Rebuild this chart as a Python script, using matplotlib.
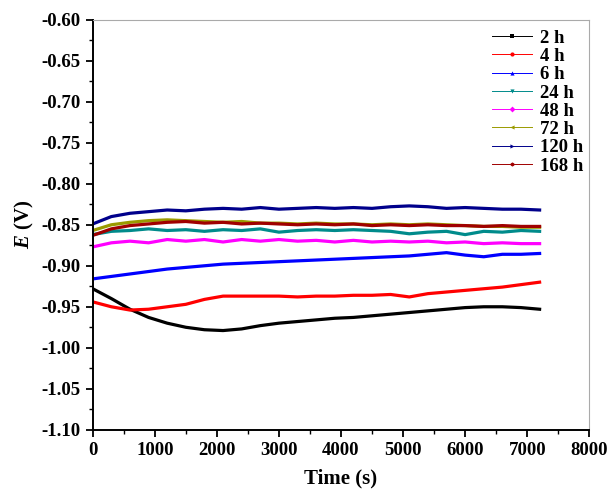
import matplotlib
matplotlib.use("Agg")
import matplotlib.pyplot as plt
from matplotlib.lines import Line2D
from matplotlib.ticker import MultipleLocator

plt.rcParams['font.family'] = 'Liberation Serif'
plt.rcParams['font.weight'] = 'bold'
plt.rcParams['mathtext.fontset'] = 'custom'
plt.rcParams['mathtext.it'] = 'Liberation Serif:italic:bold'
plt.rcParams['mathtext.rm'] = 'Liberation Serif:bold'

# time samples (s)
t = [0, 300, 600, 900, 1200, 1500, 1800, 2100, 2400, 2700, 3000, 3300, 3600,
     3900, 4200, 4500, 4800, 5100, 5400, 5700, 6000, 6300, 6600, 6900, 7200]

labels = ['2 h', '4 h', '6 h', '24 h', '48 h', '72 h', '120 h', '168 h']
colors = ['#000000', '#ff0000', '#0000ff', '#008b8b', '#ff00ff', '#9a9a00', '#00008b', '#a00000']
markers = ['s', 'o', '^', 'v', 'D', '<', '>', 'h']

e_2h = [-0.928, -0.940, -0.953, -0.963, -0.970, -0.975, -0.978, -0.979, -0.977, -0.973, -0.970, -0.968, -0.966,
        -0.964, -0.963, -0.961, -0.959, -0.957, -0.955, -0.953, -0.951, -0.950, -0.950, -0.951, -0.953]
e_4h = [-0.944, -0.950, -0.954, -0.953, -0.950, -0.947, -0.941, -0.937, -0.937, -0.937, -0.937, -0.938, -0.937,
        -0.937, -0.936, -0.936, -0.935, -0.938, -0.934, -0.932, -0.930, -0.928, -0.926, -0.923, -0.920]
e_6h = [-0.916, -0.913, -0.910, -0.907, -0.904, -0.902, -0.900, -0.898, -0.897, -0.896, -0.895, -0.894, -0.893,
        -0.892, -0.891, -0.890, -0.889, -0.888, -0.886, -0.884, -0.887, -0.889, -0.886, -0.886, -0.885]
e_24h = [-0.862, -0.858, -0.857, -0.855, -0.857, -0.856, -0.858, -0.856, -0.857, -0.855, -0.859, -0.857, -0.856,
         -0.857, -0.856, -0.857, -0.858, -0.861, -0.859, -0.858, -0.862, -0.858, -0.859, -0.857, -0.858]
e_48h = [-0.877, -0.872, -0.870, -0.872, -0.868, -0.870, -0.868, -0.871, -0.868, -0.870, -0.868, -0.870, -0.869,
         -0.871, -0.869, -0.871, -0.870, -0.871, -0.870, -0.872, -0.871, -0.873, -0.872, -0.873, -0.873]
e_72h = [-0.857, -0.850, -0.847, -0.845, -0.844, -0.845, -0.846, -0.847, -0.846, -0.848, -0.848, -0.849, -0.848,
         -0.849, -0.849, -0.850, -0.849, -0.850, -0.849, -0.850, -0.851, -0.852, -0.852, -0.853, -0.853]
e_120h = [-0.849, -0.840, -0.836, -0.834, -0.832, -0.833, -0.831, -0.830, -0.831, -0.829, -0.831, -0.830, -0.829,
          -0.830, -0.829, -0.830, -0.828, -0.827, -0.828, -0.830, -0.829, -0.830, -0.831, -0.831, -0.832]
e_168h = [-0.863, -0.855, -0.851, -0.849, -0.847, -0.846, -0.848, -0.847, -0.849, -0.848, -0.849, -0.850, -0.849,
          -0.850, -0.849, -0.851, -0.850, -0.851, -0.850, -0.851, -0.851, -0.852, -0.851, -0.852, -0.852]

series = [e_2h, e_4h, e_6h, e_24h, e_48h, e_72h, e_120h, e_168h]

fig = plt.figure(figsize=(6.1, 4.94), dpi=100)
ax = fig.add_axes([0.152, 0.130, 0.814, 0.830])

for e, c in zip(series, colors):
    ax.plot(t, e, color=c, lw=2.3)

ax.set_xlim(0, 8000)
ax.set_ylim(-1.10, -0.60)
ax.xaxis.set_major_locator(MultipleLocator(1000))
ax.xaxis.set_minor_locator(MultipleLocator(500))
ax.yaxis.set_major_locator(MultipleLocator(0.05))
ax.yaxis.set_minor_locator(MultipleLocator(0.025))
ax.yaxis.set_major_formatter(plt.FuncFormatter(lambda v, p: '%.2f' % v))
ax.tick_params(which='major', direction='out', length=5, width=1.3, labelsize=13.5, top=False, right=False)
ax.tick_params(which='minor', direction='out', length=3, width=1.0, top=False, right=False)
for s in ['left', 'bottom']:
    ax.spines[s].set_linewidth(1.4)
for s in ['top', 'right']:
    ax.spines[s].set_linewidth(0.8)
    ax.spines[s].set_color('#aaaaaa')

ax.set_xlabel('Time (s)', fontsize=15, fontweight='bold', labelpad=7)
ax.set_ylabel('$E$ (V)', fontsize=15, fontweight='bold', labelpad=4)

handles = [Line2D([], [], color=c, lw=0.7, marker=m, markersize=3, markeredgewidth=0)
           for c, m in zip(colors, markers)]
ax.legend(handles, labels, loc='upper right', bbox_to_anchor=(1.022, 1.017), frameon=False,
          fontsize=13.5, handlelength=2.15, labelspacing=0.06, handletextpad=0.4)

fig.savefig('out.png', dpi=100)
